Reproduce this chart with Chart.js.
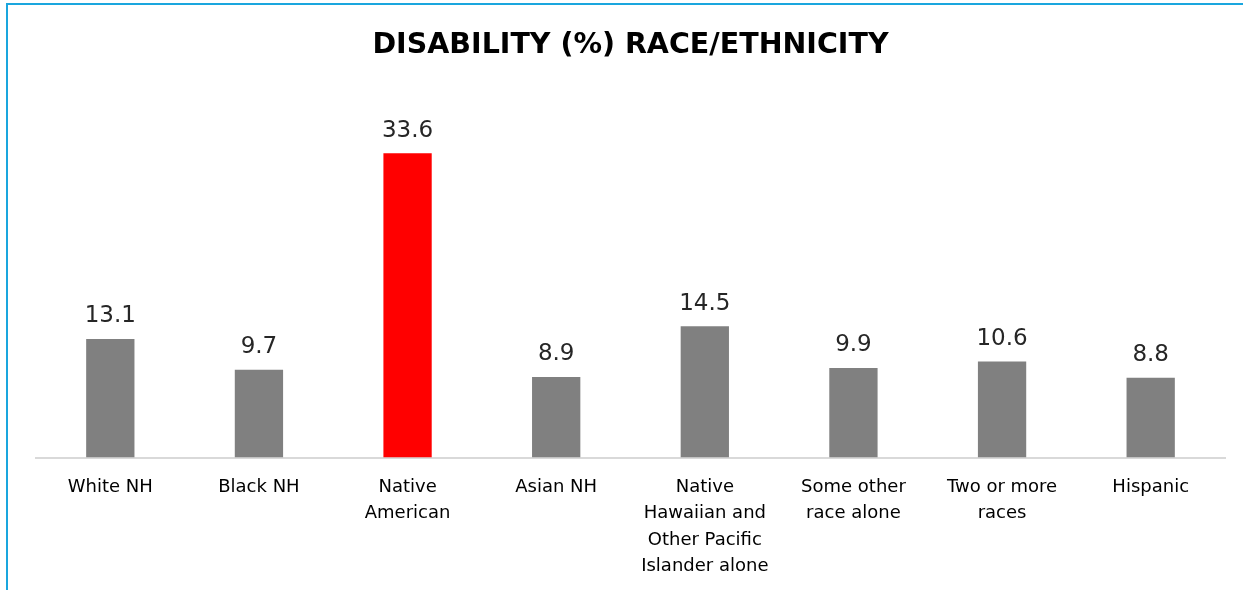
<!DOCTYPE html>
<html>
<head>
<meta charset="utf-8">
<script src="https://cdn.jsdelivr.net/npm/chart.js@4.4.0/dist/chart.umd.min.js"></script>
<style>
  html, body { margin: 0; padding: 0; background: #fff; }
  body { width: 1243px; height: 590px; position: relative; overflow: hidden; }
  .frame {
    position: absolute; left: 6px; top: 3px; right: 0; bottom: 0; overflow: hidden;
    border-left: 2px solid #1aa6de; border-top: 2px solid #1aa6de;
  }
  .frame canvas { display: block; }
</style>
</head>
<body>
<div class="frame"><canvas id="chart" width="1235" height="591"></canvas></div>
<script>
const categories = [
  "White NH",
  "Black NH",
  ["Native", "American"],
  "Asian NH",
  ["Native", "Hawaiian and", "Other Pacific", "Islander alone"],
  ["Some other", "race alone"],
  ["Two or more", "races"],
  "Hispanic"
];
const disability = [13.1, 9.7, 33.6, 8.9, 14.5, 9.9, 10.6, 8.8];
const barColors = ["#808080", "#808080", "#ff0000", "#808080", "#808080", "#808080", "#808080", "#808080"];

const valueLabels = {
  id: "valueLabels",
  afterDatasetsDraw(chart) {
    const ctx = chart.ctx;
    const meta = chart.getDatasetMeta(0);
    ctx.save();
    ctx.font = "23px 'DejaVu Sans', sans-serif";
    ctx.fillStyle = "#262626";
    ctx.textAlign = "center";
    ctx.textBaseline = "bottom";
    meta.data.forEach((bar, i) => {
      ctx.fillText(disability[i].toFixed(1), bar.x, bar.y - 11);
    });
    ctx.restore();
  }
};

document.addEventListener("DOMContentLoaded", function () {
  new Chart(document.getElementById("chart"), {
    type: "bar",
    data: {
      labels: categories,
      datasets: [
        {
          data: disability,
          backgroundColor: barColors,
          barPercentage: 0.325,
          categoryPercentage: 1,
        },
      ],
    },
    options: {
      responsive: false,
      animation: false,
      layout: { padding: { left: 28, right: 18, top: 23, bottom: 0 } },
      plugins: {
        legend: { display: false },
        tooltip: { enabled: false },
        title: {
          display: true,
          text: "DISABILITY (%) RACE/ETHNICITY",
          color: "#000",
          font: { family: "'DejaVu Sans', sans-serif", size: 28.5, weight: "bold" },
          padding: { top: 0, bottom: 33 },
        },
      },
      scales: {
        x: {
          grid: { display: false, drawTicks: false },
          border: { display: true, color: "#d9d9d9", width: 2 },
          ticks: {
            color: "#000",
            font: { family: "'DejaVu Sans', sans-serif", size: 18, lineHeight: 1.45 },
            padding: 17,
            maxRotation: 0,
            autoSkip: false,
          },
        },
        y: {
          display: false,
          min: 0,
          max: 40,
        },
      },
    },
    plugins: [valueLabels],
  });
});
</script>
</body>
</html>
